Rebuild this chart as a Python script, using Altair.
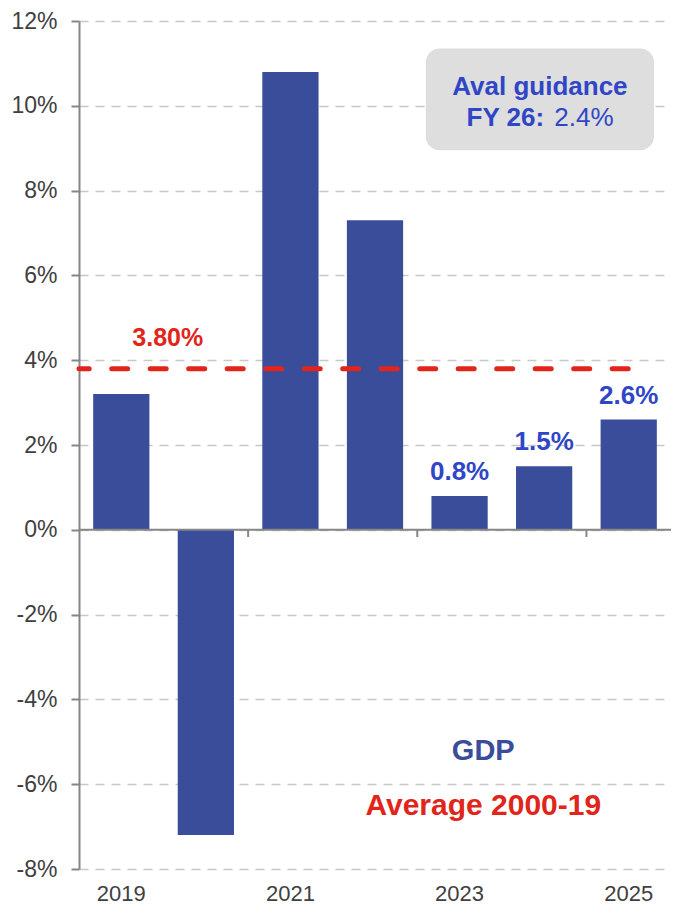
import altair as alt
import pandas as pd

# ---- data ----
years = ["2019", "2020", "2021", "2022", "2023", "2024", "2025"]
gdp = [3.2, -7.2, 10.8, 7.3, 0.8, 1.5, 2.6]
bar_labels = ["", "", "", "", "0.8%", "1.5%", "2.6%"]
x_label_years = ["2019", "2021", "2023", "2025"]
y_ticks = [-8, -6, -4, -2, 0, 2, 4, 6, 8, 10, 12]

avg_value = 3.8
avg_label = "3.80%"
avg_end_slot = 6.5          # centre of the 2025 slot
tick_slots = [2, 4, 6]      # category separators carrying a tick mark

box_text_1 = "Aval guidance"
box_text_2_bold = "FY 26:"
box_text_2_plain = "2.4%"
legend_gdp = "GDP"
legend_avg = "Average 2000-19"

BLUE_BAR = "#3A4D9A"
BLUE_TXT = "#2F46C6"
RED = "#E1251B"
GREY_AX = "#868686"
FONT = "Liberation Sans"

n = len(years)

df = pd.DataFrame({"year": years, "gdp": gdp, "label": bar_labels})

yscale = alt.Scale(domain=[-8, 12], nice=False, zero=False)
slot = alt.Scale(domain=[0, n], nice=False, zero=False, padding=0)
band = alt.Scale(paddingInner=0.335, paddingOuter=0.1675)

# one identical y axis for every layer so that they merge into one
yaxis = alt.Axis(values=y_ticks, title=None, labelExpr="datum.value + '%'",
                 labelFontSize=23, labelColor="#404040", labelFont=FONT,
                 labelPadding=14, domainColor=GREY_AX, domainWidth=2,
                 tickColor=GREY_AX, tickSize=8, tickWidth=2,
                 grid=True, gridColor="#C8C8C8", gridDash=[9, 7], gridWidth=1.5)


def Y(field):
    return alt.Y(field, scale=yscale, axis=yaxis, title=None)


bars = alt.Chart(df).mark_bar(color=BLUE_BAR).encode(
    x=alt.X("year:N", sort=years, scale=band,
            axis=alt.Axis(values=x_label_years, title=None, domain=False, ticks=False,
                          tickSize=0, labelAngle=0, labelFontSize=22, labelColor="#404040",
                          labelFont=FONT, labelPadding=14, grid=False)),
    y=Y("gdp:Q"),
)

bar_text = alt.Chart(df).mark_text(
    color=BLUE_TXT, font=FONT, fontSize=26, fontWeight="bold", baseline="middle", dy=-24
).encode(
    x=alt.X("year:N", sort=years, scale=band, axis=None),
    y=Y("gdp:Q"),
    text="label:N",
)

# ---- overlay with slot coordinates ----
zero_df = pd.DataFrame({"x0": [0], "x1": [n], "y": [0]})
zero_line = alt.Chart(zero_df).mark_rule(color=GREY_AX, strokeWidth=2).encode(
    x=alt.X("x0:Q", scale=slot, axis=None),
    x2="x1:Q",
    y=Y("y:Q"),
)

ticks_df = pd.DataFrame({"x": tick_slots, "y0": [0] * len(tick_slots),
                         "y1": [-0.17] * len(tick_slots)})
sep_ticks = alt.Chart(ticks_df).mark_rule(color=GREY_AX, strokeWidth=2).encode(
    x=alt.X("x:Q", scale=slot, axis=None),
    y=Y("y0:Q"),
    y2="y1:Q",
)

avg_df = pd.DataFrame({"x0": [0], "x1": [avg_end_slot], "y": [avg_value]})
avg_line = alt.Chart(avg_df).mark_rule(
    color=RED, strokeWidth=5, strokeDash=[16, 22.5], strokeDashOffset=5.8, strokeCap="round"
).encode(
    x=alt.X("x0:Q", scale=slot, axis=None),
    x2="x1:Q",
    y=Y("y:Q"),
)

ann_df = pd.DataFrame({
    "x": [1.05, 5.45, 5.50, 5.62, 4.78, 4.78],
    "y": [4.53, 10.44, 9.72, 9.72, -5.22, -6.52],
    "t": [avg_label, box_text_1, box_text_2_bold, box_text_2_plain, legend_gdp, legend_avg],
    "kind": ["avg", "box1", "box2b", "box2p", "gdp", "avgleg"],
})


def ann(kind, **kw):
    return alt.Chart(ann_df).transform_filter(alt.datum.kind == kind).mark_text(
        font=FONT, baseline="middle", **kw
    ).encode(
        x=alt.X("x:Q", scale=slot, axis=None),
        y=Y("y:Q"),
        text="t:N",
    )


box_df = pd.DataFrame({"x0": [4.1], "x1": [6.8], "y0": [11.35], "y1": [8.95]})
box = alt.Chart(box_df).mark_rect(color="#DEDEDE", cornerRadius=14).encode(
    x=alt.X("x0:Q", scale=slot, axis=None),
    x2="x1:Q",
    y=Y("y0:Q"),
    y2="y1:Q",
)

chart = alt.layer(
    bars, bar_text,
    zero_line, sep_ticks, avg_line, box,
    ann("avg", color=RED, fontSize=25, fontWeight="bold", align="center"),
    ann("box1", color=BLUE_TXT, fontSize=26, fontWeight="bold", align="center"),
    ann("box2b", color=BLUE_TXT, fontSize=26, fontWeight="bold", align="right"),
    ann("box2p", color=BLUE_TXT, fontSize=26, fontWeight="normal", align="left"),
    ann("gdp", color=BLUE_BAR, fontSize=29, fontWeight="bold", align="center"),
    ann("avgleg", color=RED, fontSize=30, fontWeight="bold", align="center"),
).resolve_scale(x="independent").properties(
    width=592, height=848,
    autosize=alt.AutoSizeParams(type="none"),
    padding={"left": 71, "top": 13, "right": 0, "bottom": 35},
).configure(font=FONT).configure_view(stroke=None)

chart.save("out.html", embed_options={"renderer": "svg", "actions": False})
